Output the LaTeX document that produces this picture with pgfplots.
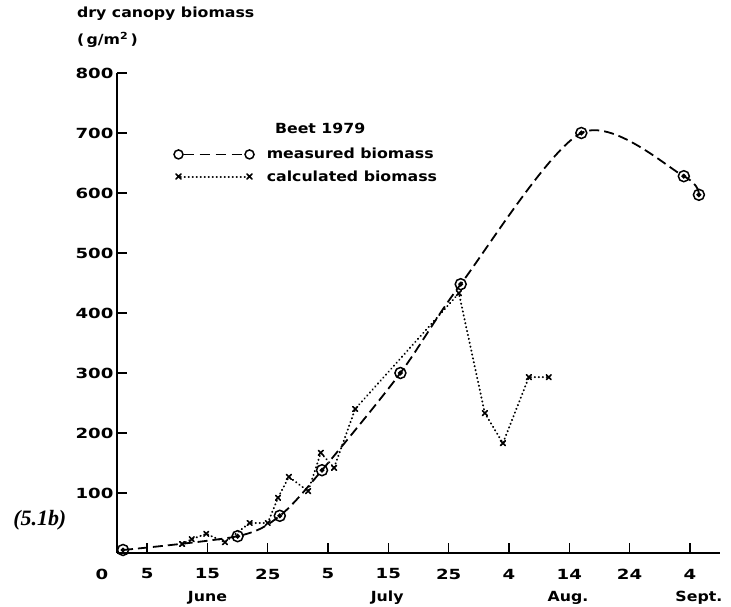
\documentclass[border=0pt]{standalone}
\usepackage{fontspec}
\setmainfont[FakeStretch=1.13]{DejaVu Sans}
\newfontfamily\numfont[FakeStretch=1.3]{DejaVu Sans}
\newfontfamily\serifit{Liberation Serif}
\usepackage{pgfplots}
\pgfplotsset{compat=1.18}

\pgfdeclareplotmark{odot}{%
  \pgfpathcircle{\pgfpointorigin}{\pgfplotmarksize}\pgfusepathqstroke
  \pgfpathcircle{\pgfpointorigin}{0.3\pgfplotmarksize}\pgfusepathqfillstroke}

\pgfplotstableread{
x y
1 5
20 28
27 62
34 138
47 300
57 448
77 700
94 628
96.5 597
}\measured

\pgfplotstableread{
x y
10.8 15
12.4 23
14.8 32
17.9 18
22 50
25 50
26.7 92
28.5 127
31.7 103
33.8 167
36 142
39.5 240
56.7 433
61 233
64 183
68.3 293
71.6 293
}\calculated

\newcommand{\lbl}{\bfseries\fontsize{14}{16}\selectfont}
\newcommand{\nlbl}{\numfont\bfseries\fontsize{14}{16}\selectfont}

\begin{document}
\begin{tikzpicture}
\path[use as bounding box] (-117bp,-54bp) rectangle (614bp,553bp);
\begin{axis}[
  scale only axis, width=603bp, height=480bp,
  xmin=0, xmax=100, ymin=0, ymax=800,
  axis lines=left,
  axis line style={-, line width=1.5bp},
  tick align=inside,
  major tick length=10bp,
  tick style={line width=1.5bp, black},
  xtick={5,15,...,95},
  xticklabels={5,15,25,5,15,25,4,14,24,4},
  ytick={100,200,...,800},
  /pgf/number format/assume math mode=true,
  ticklabel style={font=\nlbl},
  xticklabel style={anchor=center, yshift=-21bp},
  clip=false,
  legend cell align=left,
  legend style={draw=none, fill=none, at={(axis cs:9.3,678)}, anchor=north west,
    inner sep=0pt, row sep=6bp, font=\lbl,
    /tikz/every odd column/.append style={column sep=10bp}},
]
\addplot[line width=1.8bp, dash pattern=on 10bp off 5bp, smooth,
  mark=odot, mark size=5.5bp, mark options={solid, line width=1.5bp, fill=black},
  legend image code/.code={
    \draw[line width=1.8bp, dash pattern=on 10bp off 6bp] (5bp,0) -- (66bp,0);
    \draw[line width=1.5bp, solid] (0bp,0bp) circle (4.5bp) (71bp,0bp) circle (4.5bp);}
  ] table {\measured};
\addlegendentry{measured biomass}
\addplot[line width=2bp, line cap=round, dash pattern=on 0.3bp off 3.7bp,
  mark=x, mark size=3.4bp, mark options={solid, line width=1.6bp},
  legend image code/.code={
    \draw[line width=2bp, line cap=round, dash pattern=on 0.3bp off 3.7bp] (2bp,0) -- (70bp,0);
    \draw[line width=1.5bp, solid] (-2.5bp,-2.5bp) -- (2.5bp,2.5bp) (-2.5bp,2.5bp) -- (2.5bp,-2.5bp)
      (68.5bp,-2.5bp) -- (73.5bp,2.5bp) (68.5bp,2.5bp) -- (73.5bp,-2.5bp);}
  ] table {\calculated};
\addlegendentry{calculated biomass}

\node[anchor=west, font=\lbl] at (axis cs:-7.2,898) {dry canopy biomass};
\node[anchor=west, font=\lbl] at (axis cs:-7.2,855) {(\,g/m\textsuperscript{2}\,)};
\node[font=\lbl] at (axis cs:33.7,708) {Beet 1979};
\node[font=\nlbl] at (axis cs:-2.5,-35) {0};
\node[font=\lbl] at (axis cs:15,-75) {June};
\node[font=\lbl] at (axis cs:44.8,-75) {July};
\node[font=\lbl] at (axis cs:74.8,-75) {Aug.};
\node[font=\lbl] at (axis cs:96.5,-75) {Sept.};
\node[font=\serifit\bfseries\itshape\fontsize{22}{24}\selectfont] at (axis cs:-12.8,55) {(5.1b)};
\end{axis}
\end{tikzpicture}
\end{document}
